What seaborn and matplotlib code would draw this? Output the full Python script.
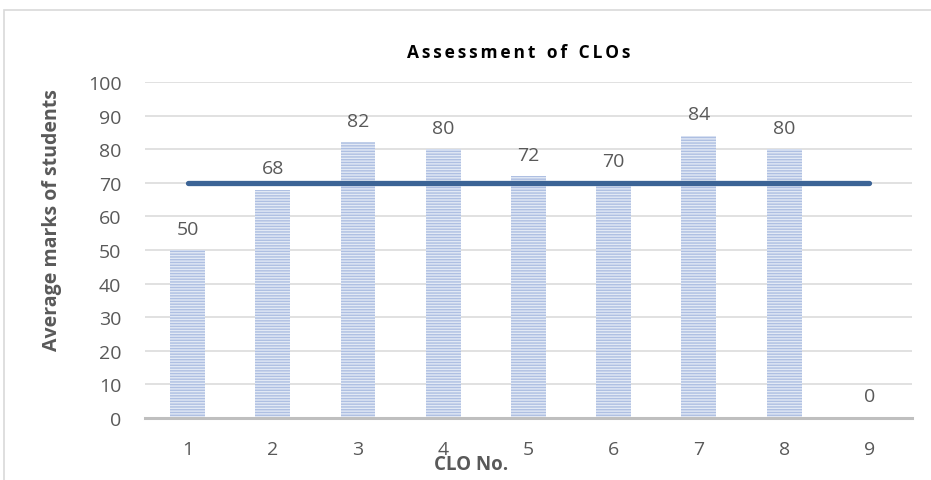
"""Assessment of CLOs: average marks per CLO with a 70% target line."""

import matplotlib.pyplot as plt
import pandas as pd
import seaborn as sns
from matplotlib.patches import Rectangle

clo_numbers = ["1", "2", "3", "4", "5", "6", "7", "8", "9"]
avg_marks = [50, 68, 82, 80, 72, 70, 84, 80, 0]
target = [70, 70, 70, 70, 70, 70, 70, 70, 70]
y_ticks = [0, 10, 20, 30, 40, 50, 60, 70, 80, 90, 100]

TEXT_GREY = "#595959"


def spaced(text: str) -> str:
    """Mimic the letter spacing of the original title."""
    return "\u2009 \u2009".join("\u2006".join(w) for w in text.split())


def main() -> None:
    df = pd.DataFrame({"clo": clo_numbers, "marks": avg_marks})

    sns.set_theme(style="white")
    plt.rcParams["font.family"] = ["Open Sans", "DejaVu Sans"]
    plt.rcParams["hatch.linewidth"] = 1.0

    fig = plt.figure(figsize=(9.31, 4.81), dpi=100)
    ax = fig.add_axes([0.1557, 0.1289, 0.8239, 0.6985])

    sns.barplot(data=df, x="clo", y="marks", order=clo_numbers, width=0.41,
                color="#e6ecf6", ax=ax)
    for p in ax.patches:
        p.set_facecolor("#e2e9f5")
        p.set_edgecolor("#aebfe2")
        p.set_linewidth(0)
        p.set_hatch("------")

    # target line over the bars
    ax.plot(range(len(clo_numbers)), target, color="#3c6496", lw=3.8,
            solid_capstyle="round", zorder=5)

    for i, v in enumerate(avg_marks):
        ax.annotate(str(v), (i, v), xytext=(0, 9), textcoords="offset points",
                    ha="center", va="bottom", fontsize=14, color=TEXT_GREY)

    ax.set_ylim(0, 100)
    ax.set_xlim(-0.5, len(clo_numbers) - 0.5)
    ax.set_yticks(y_ticks)
    ax.yaxis.grid(True, color="#d9d9d9", lw=1.1)
    ax.set_axisbelow(True)
    for side in ["top", "right", "left"]:
        ax.spines[side].set_visible(False)
    ax.spines["bottom"].set_color("#bfbfbf")
    ax.spines["bottom"].set_linewidth(2.2)
    ax.spines["bottom"].set_zorder(6)
    ax.tick_params(axis="x", length=0, pad=16, labelsize=14, labelcolor=TEXT_GREY)
    ax.tick_params(axis="y", length=0, pad=17, labelsize=14, labelcolor=TEXT_GREY)

    ax.set_ylabel("Average marks of students", fontsize=14, fontweight="bold",
                  color=TEXT_GREY)
    ax.yaxis.set_label_coords(-0.108, 0.592)
    ax.set_xlabel("CLO No.", fontsize=13.5, fontweight="bold", color=TEXT_GREY)
    ax.xaxis.set_label_coords(0.425, -0.108)

    fig.text(0.557, 0.89, spaced("Assessment of CLOs"), ha="center", va="center",
             fontsize=12.5, fontweight="bold", color="black")

    # outer chart frame, cut off at the right and bottom like the original
    fig.patches.append(Rectangle((4 / 931, -0.1), 1.2, 1.1 - 11 / 481,
                                 transform=fig.transFigure, fill=False,
                                 edgecolor="#d9d9d9", lw=1.2))

    fig.savefig("out.png", dpi=100)
    plt.close(fig)


if __name__ == "__main__":
    main()
